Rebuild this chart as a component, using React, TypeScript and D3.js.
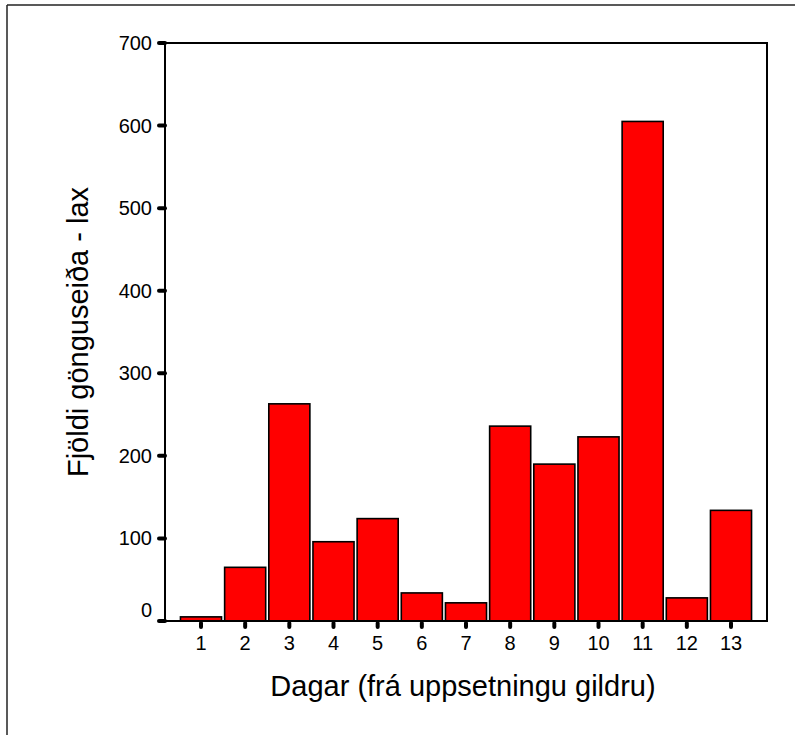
import React from "react";
import * as d3 from "d3";

const categories: string[] = ["1","2","3","4","5","6","7","8","9","10","11","12","13"];
const values: number[] = [5, 65, 263, 96, 124, 34, 22, 236, 190, 223, 605, 28, 134];
const yTicks: number[] = [0, 100, 200, 300, 400, 500, 600, 700];
const xTitle = "Dagar (frá uppsetningu gildru)";
const yTitle = "Fjöldi gönguseiða - lax";

const W = 795, H = 735;
const plot = { left: 165, right: 767, top: 43, bottom: 621 };
const font = "'Liberation Sans', Arial, sans-serif";

export default function App() {
  const x = d3.scaleBand<string>()
    .domain(categories)
    .range([plot.left, plot.right])
    .paddingInner(0.07)
    .paddingOuter(0.35);
  const y = d3.scaleLinear().domain([0, 700]).range([plot.bottom, plot.top]);
  const bw = x.bandwidth();
  return (
    <svg width={W} height={H} style={{ position: "absolute", left: 0, top: 0, background: "#fff" }}>
      <rect x={0} y={0} width={W} height={H} fill="#fff" />
      {/* outer frame (top + left) */}
      <line x1={7} y1={5} x2={W} y2={5} stroke="#222" strokeWidth={1.5} />
      <line x1={7} y1={5} x2={7} y2={H} stroke="#222" strokeWidth={1.5} />

      {/* bars */}
      {values.map((v, i) => (
        <rect key={i} x={x(categories[i])!} y={y(v)} width={bw} height={y(0) - y(v)}
          fill="#ff0000" stroke="#000" strokeWidth={1.6} />
      ))}

      {/* plot frame */}
      <path d={`M${plot.left},${plot.top}H${plot.right}V${plot.bottom}H${plot.left}Z`}
        fill="none" stroke="#000" strokeWidth={2} />

      {/* y ticks */}
      {yTicks.map((t) => (
        <g key={t}>
          <line x1={plot.left - 6} x2={plot.left} y1={y(t)} y2={y(t)} stroke="#000" strokeWidth={4} strokeLinecap="round" />
          <text x={152} y={t === 0 ? y(t) - 11 : y(t)} dy="0.35em" textAnchor="end"
            fontFamily={font} fontSize={20} fill="#000">{t}</text>
        </g>
      ))}

      {/* x ticks */}
      {categories.map((c) => {
        const cx = x(c)! + bw / 2;
        return (
          <g key={c}>
            <line x1={cx} x2={cx} y1={plot.bottom + 2} y2={plot.bottom + 6} stroke="#000" strokeWidth={4} strokeLinecap="round" />
            <text x={cx} y={643} dy="0.35em" textAnchor="middle" fontFamily={font} fontSize={20} fill="#000">{c}</text>
          </g>
        );
      })}

      {/* axis titles */}
      <text x={463} y={686} dy="0.35em" textAnchor="middle"
        fontFamily={font} fontSize={29} fill="#000">{xTitle}</text>
      <text transform={`translate(78,${(plot.top + plot.bottom) / 2}) rotate(-90)`} dy="0.35em" textAnchor="middle"
        fontFamily={font} fontSize={29} fill="#000">{yTitle}</text>
    </svg>
  );
}
